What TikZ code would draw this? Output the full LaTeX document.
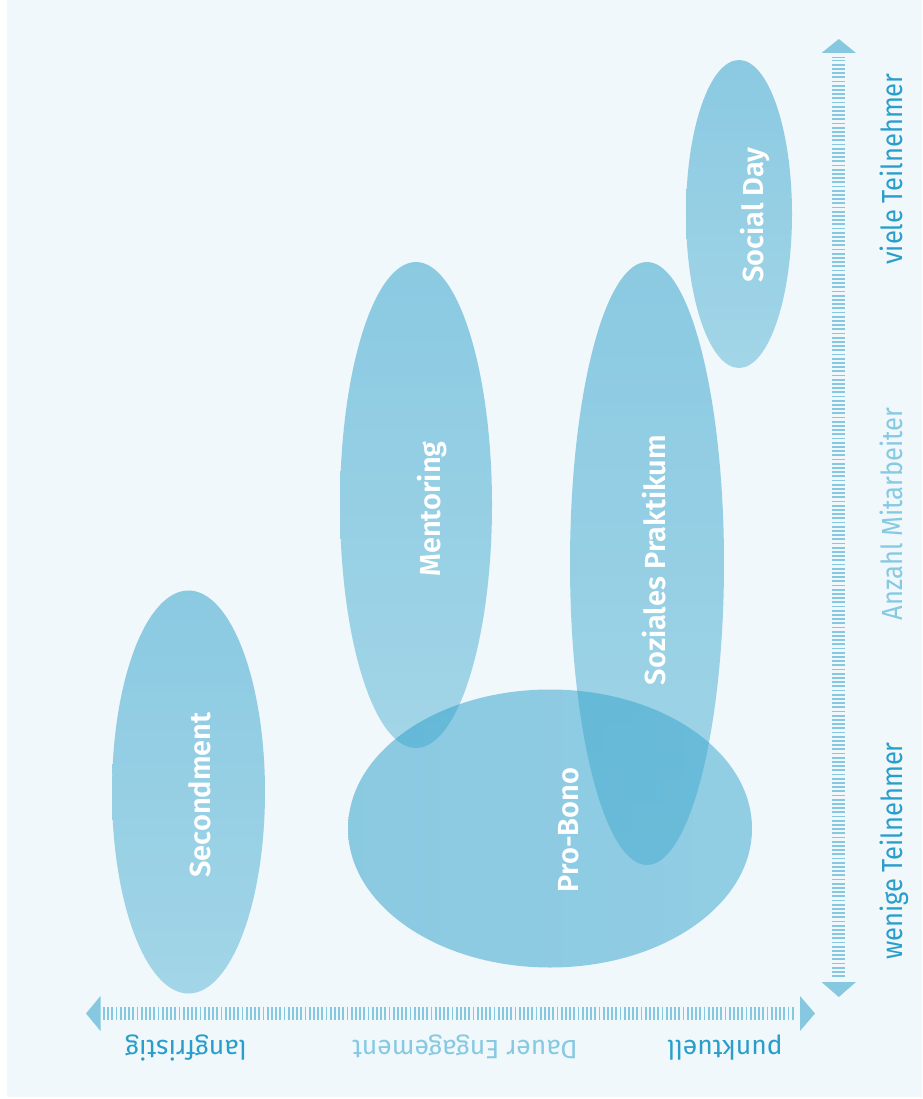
\documentclass[tikz,border=0pt]{standalone}
\usepackage{fontspec}
\setmainfont{Fira Sans}
\newfontfamily\axfont[FakeStretch=0.88]{Fira Sans}
\newfontfamily\btfont{Fira Sans}
\IfFontExistsTF{Fira Sans SemiBold}
  {\newfontfamily\lbfont{Fira Sans SemiBold}\newcommand\lbweight{}}
  {\newfontfamily\lbfont{Fira Sans}\newcommand\lbweight{\bfseries}}
\usetikzlibrary{shapes.geometric}
\definecolor{bg}{HTML}{F1F8FB}
\definecolor{blobdark}{HTML}{2DA0CB}
\definecolor{bloblight}{HTML}{5AB6D5}
\definecolor{blobpale}{HTML}{62BAD8}
\definecolor{axiscol}{HTML}{86C8E0}
\definecolor{txtdark}{HTML}{2A9ECB}
\definecolor{txtlight}{HTML}{86C9E2}
\begin{document}
\begin{tikzpicture}[x=1pt,y=-1pt,
  blob/.style={ellipse, inner sep=0pt, draw=none, fill opacity=0.52,
    top color=blobdark, bottom color=bloblight},
  hblob/.style={ellipse, inner sep=0pt, draw=none, fill opacity=0.52,
    left color=blobdark, middle color=blobpale, right color=blobdark!70!bloblight},
  blobtext/.style={text=white, font=\lbfont\lbweight\fontsize{29}{34}\selectfont,
    rotate=90, anchor=base, inner sep=0pt},
  sidetext/.style={font=\axfont\fontsize{29}{34}\selectfont, rotate=90, anchor=base, inner sep=0pt},
  bottext/.style={font=\btfont\fontsize{26.5}{32}\selectfont, rotate=180, anchor=base, inner sep=0pt},
  ticks/.style={draw=axiscol, line width=13pt, dash pattern=on 1.8pt off 2.4pt},
  tip/.style={fill=axiscol, draw=none}
]
\useasboundingbox (0,0) rectangle (922,1099);
\fill[white] (0,0) rectangle (922,1099);
\fill[bg] (7,0) rectangle (922,1097);

% ellipses
\node[blob, minimum width=153pt, minimum height=403pt] (sec) at (188.5,792) {};
\node[blob, minimum width=152pt, minimum height=486pt] (men) at (416,505) {};
\node[blob, minimum width=154pt, minimum height=603pt] (soz) at (647,563.5) {};
\node[blob, minimum width=106pt, minimum height=308pt] (day) at (739,214) {};
\node[hblob, minimum width=404pt, minimum height=278pt] (pro) at (550,828.5) {};

% labels in ellipses
\node[blobtext] (secT) at (210,795) {Secondment};
\node[blobtext] (menT) at (440,509) {Mentoring};
\node[blobtext] (sozT) at (665,560) {Soziales Praktikum};
\node[blobtext] (dayT) at (763,215) {Social Day};
\node[blobtext] (proT) at (578,830) {Pro-Bono};

% axes
\coordinate (vtop) at (838,57);
\coordinate (vbot) at (838,977);
\coordinate (hleft) at (103,1013.5);
\coordinate (hright) at (795,1013.5);
\draw[ticks] (vbot) -- (vtop);
\draw[ticks] (hleft) -- (hright);
\fill[tip] (821.5,53) -- (856,53) -- (838.8,39) -- cycle;
\fill[tip] (821.5,982) -- (856,982) -- (838.8,997) -- cycle;
\fill[tip] (100.5,996) -- (100.5,1031) -- (86,1013.5) -- cycle;
\fill[tip] (800,996) -- (800,1031) -- (815,1013.5) -- cycle;

% axis labels
\node[sidetext, text=txtdark] (viele) at (902,169) {viele Teilnehmer};
\node[sidetext, text=txtlight] (anzahl) at (902,514) {Anzahl Mitarbeiter};
\node[sidetext, text=txtdark] (wenige) at (902,851) {wenige Teilnehmer};
\node[bottext, text=txtdark] (lang) at (186,1040) {langfristig};
\node[bottext, text=txtlight] (dauer) at (465,1040) {Dauer Engagement};
\node[bottext, text=txtdark] (punkt) at (725,1040) {punktuell};
\end{tikzpicture}
\end{document}
